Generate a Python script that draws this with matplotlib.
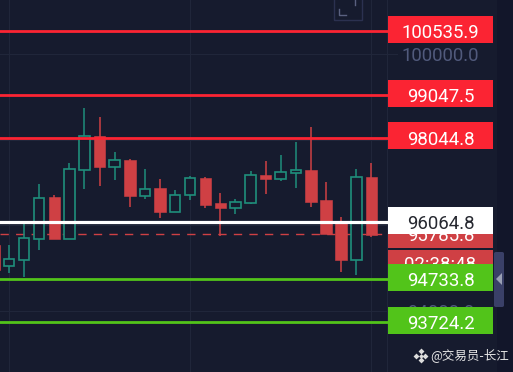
import matplotlib
matplotlib.use("Agg")
import matplotlib.pyplot as plt
from matplotlib.patches import Rectangle, FancyBboxPatch, Polygon
from matplotlib.transforms import blended_transform_factory

# ---- data ----
opens  = [95538, 95046, 95186, 95678, 96654, 95678, 97293, 98089, 97364, 97527, 96692, 96865, 96310, 96701,
          97106, 96514, 96411, 96521, 97176, 97076, 97216, 97286, 96584, 96053, 95186, 97136]
highs  = [95538, 95538, 96053, 96959, 96708, 97450, 98738, 98541, 97708, 97544, 97317, 97076, 96825, 97153,
          97122, 96762, 96607, 97270, 97504, 97644, 97949, 98293, 97012, 96200, 97310, 97457]
lows   = [94950, 94889, 94795, 95420, 95671, 95671, 96842, 96919, 97059, 96420, 96614, 96163, 96303, 96591,
          96397, 95748, 96263, 96497, 96724, 97043, 96865, 96420, 95795, 94898, 94835, 95718]
closes = [94953, 95203, 95694, 96645, 95671, 97310, 98082, 97357, 97520, 96692, 96856, 96303, 96708, 97099,
          96481, 96411, 96537, 97169, 97076, 97239, 97286, 96551, 95795, 95186, 97129, 95779]
first_index = -1

levels_red = [100535.9, 99047.5, 98044.8]
levels_green = [94733.8, 93724.2]
last_price = 96064.8
prev_close = 95785.8
grid_prices = [100000, 98000, 96000, 94000]
countdown = "02:38:48"
countdown_y = 95105
watermark = "@交易员-长江"

# ---- style ----
BG = "#161b2e"
GREEN = "#1f8f7c"
RED = "#cf4044"
LINE_RED = "#fb2433"
LINE_GREEN = "#52c41a"
GRID = "#20263a"

fig = plt.figure(figsize=(5.13, 3.72), dpi=100, facecolor=BG)
ax = fig.add_axes([0, 0, 1, 1], facecolor=BG)
ax.set_xlim(-0.596, 33.38)
ax.set_ylim(92564, 101273)
ax.axis("off")
tr = blended_transform_factory(ax.transAxes, ax.transData)
PANEL_L = 388 / 513
PANEL_R = 493 / 513
BOX_H = 632
BOX_LIFT = 47

# right dark strip
ax.add_patch(Rectangle((497 / 513, 0), 16 / 513, 1, transform=ax.transAxes, fc="#12162a", ec="none", zorder=0))

# grid
for g in grid_prices:
    ax.plot([0, 397 / 513], [g, g], transform=tr, color=GRID, lw=0.8, zorder=1)
for i in [0, 12, 24]:
    ax.axvline(i, color=GRID, lw=0.8, zorder=1)
ax.axvline((388 - 9) / 15.1 - 0.05, color=GRID, lw=0.8, zorder=1)

# candles
for k in range(len(highs)):
    i = first_index + k
    o, h, l, c = opens[k], highs[k], lows[k], closes[k]
    up = c > o
    col = GREEN if up else RED
    ax.vlines(i, l, h, color=col, lw=1.1, zorder=3)
    if up:
        ax.bar(i, c - o, bottom=o, width=0.70, facecolor=BG, edgecolor=col, linewidth=1.2, zorder=4)
    else:
        ax.bar(i, o - c, bottom=c, width=0.76, facecolor=col, edgecolor=col, linewidth=0.4, zorder=4)

# price lines
for p in levels_red:
    ax.plot([-0.01, PANEL_L], [p, p], transform=tr, color=LINE_RED, lw=2.0, solid_capstyle="butt", zorder=6, clip_on=False)
for p in levels_green:
    ax.plot([-0.01, PANEL_L], [p, p], transform=tr, color=LINE_GREEN, lw=2.0, solid_capstyle="butt", zorder=6, clip_on=False)
ax.plot([0, PANEL_L], [prev_close, prev_close], transform=tr, color=RED, lw=1.0,
        dashes=(6, 5.2), zorder=2)
ax.plot([-0.01, PANEL_L], [last_price, last_price], transform=tr, color="#ffffff", lw=2.3,
        solid_capstyle="butt", zorder=6, clip_on=False)

FONT = "Roboto"
FS = 13.4


def axis_label(price, text, color="#515a7c", z=2):
    ax.text((PANEL_L + PANEL_R) / 2, price, text, transform=tr, color=color, fontsize=FS,
            family=FONT, ha="center", va="center_baseline", zorder=z)


def box_label(price, text, fc, tc, z, lift=BOX_LIFT):
    ax.add_patch(Rectangle((PANEL_L, price + lift - BOX_H / 2), PANEL_R - PANEL_L, BOX_H, transform=tr,
                           fc=fc, ec="none", zorder=z))
    axis_label(price, text, tc, z + 0.5)


for g in grid_prices:
    axis_label(g, f"{g:.1f}", z=7)
box_label(prev_close, f"{prev_close:.1f}", RED, "#ffffff", 8, lift=0)
box_label(countdown_y, countdown, RED, "#ffffff", 9, lift=0)
box_label(last_price, f"{last_price:.1f}", "#ffffff", "#262830", 10)
for p in levels_red:
    box_label(p, f"{p:.1f}", LINE_RED, "#ffffff", 11)
for p in levels_green:
    box_label(p, f"{p:.1f}", LINE_GREEN, "#ffffff", 11)

# side handle
ta = ax.transAxes
ax.add_patch(FancyBboxPatch((494 / 513, 1 - 307 / 372), 10 / 513, 55 / 372, transform=ta,
                            boxstyle="round,pad=0,rounding_size=0.004", fc="#3a4068", ec="none", zorder=12))
ax.add_patch(Polygon([(496 / 513, 1 - 279 / 372), (502 / 513, 1 - 273 / 372), (502 / 513, 1 - 285 / 372)],
                     transform=ta, fc="#9aa0b4", ec="none", zorder=13))

# corner icon
ax.add_patch(Rectangle((334 / 513, 1 - 20 / 372), 28 / 513, 30 / 372, transform=ta, fc="none",
                       ec="#2b3150", lw=1.0, zorder=7))
ax.plot([339 / 513, 339 / 513, 346 / 513], [1 - 9 / 372, 1 - 15 / 372, 1 - 15 / 372], transform=ta,
        color="#5a6180", lw=1.0, zorder=7)
ax.plot([355 / 513, 355 / 513], [1 - 0 / 372, 1 - 5 / 372], transform=ta, color="#5a6180", lw=1.0, zorder=7)

# watermark
ax.text(430 / 513, 1 - 355.5 / 372, watermark, transform=ta, color="#e6e6e6", fontsize=9,
        family=["Noto Sans CJK SC", "DejaVu Sans"], ha="left", va="center", zorder=14)
for dx, dy, s in [(0, -4.5, 9), (-4.5, 0, 9), (4.5, 0, 9), (0, 4.5, 9), (0, 0, 6)]:
    ax.plot([(420.5 + dx) / 513], [1 - (355.5 + dy) / 372], transform=ta, marker="D", ms=s ** 0.5,
            color="#dcdcdc", mec="none", ls="none", zorder=14)

fig.savefig("out.png", dpi=100, facecolor=BG)
